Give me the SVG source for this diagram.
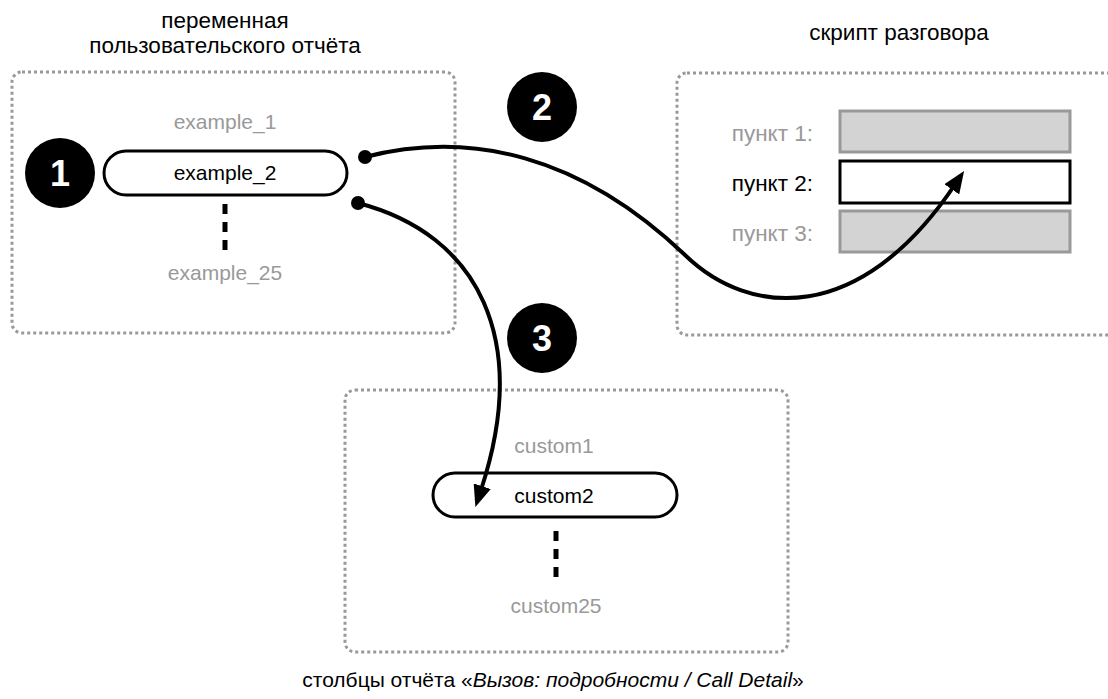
<svg xmlns="http://www.w3.org/2000/svg" width="1108" height="699" viewBox="0 0 1108 699">
<defs>
<style>
.t{font-family:"Liberation Sans",Arial,Helvetica,sans-serif;font-size:21px;fill:#000}
.c{font-size:22.5px}
.g{fill:#999}
.box{fill:none;stroke:#999;stroke-width:3;stroke-dasharray:3 3}
.pill{fill:#fff;stroke:#000;stroke-width:3}
.badge{fill:#000}
.bn{font-family:"Liberation Sans",Arial,Helvetica,sans-serif;font-size:36px;font-weight:bold;fill:#fff;text-anchor:middle}
.dash{stroke:#000;stroke-width:5;stroke-dasharray:10 8}
.conn{fill:none;stroke:#000;stroke-width:4}
.row{fill:#d3d3d3;stroke:#999;stroke-width:3}
</style>
<marker id="arr" markerUnits="userSpaceOnUse" markerWidth="22" markerHeight="18" refX="4" refY="9" orient="auto">
<path d="M0,0 L22,9 L0,18 Z" fill="#000"/>
</marker>
</defs>

<g id="report-variable">
<text class="t c" x="225" y="28" text-anchor="middle">переменная</text>
<text class="t c" x="225" y="53" text-anchor="middle">пользовательского отчёта</text>
<rect class="box" x="12" y="72" width="443" height="261" rx="10"/>
<text class="t g" x="225" y="129" text-anchor="middle">example_1</text>
<rect class="pill" x="104" y="151" width="243" height="44" rx="22"/>
<text class="t" x="225" y="180" text-anchor="middle">example_2</text>
<line class="dash" x1="225" y1="204" x2="225" y2="252"/>
<text class="t g" x="225" y="280" text-anchor="middle">example_25</text>
</g>

<g id="badge1">
<circle class="badge" cx="60" cy="173" r="35"/>
<text class="bn" x="60" y="186">1</text>
</g>

<g id="badge2">
<circle class="badge" cx="542" cy="107" r="35"/>
<text class="bn" x="542" y="120">2</text>
</g>

<g id="badge3">
<circle class="badge" cx="542" cy="338" r="35"/>
<text class="bn" x="542" y="351">3</text>
</g>

<g id="call-script">
<text class="t c" x="899" y="40" text-anchor="middle">скрипт разговора</text>
<rect class="box" x="677" y="73" width="460" height="262" rx="10"/>
<text class="t c g" x="813" y="141" text-anchor="end">пункт 1:</text>
<rect class="row" x="840" y="111" width="230" height="41"/>
<text class="t c" x="813" y="191" text-anchor="end">пункт 2:</text>
<rect x="840" y="161" width="230" height="42" fill="#fff" stroke="#000" stroke-width="3"/>
<text class="t c g" x="813" y="241" text-anchor="end">пункт 3:</text>
<rect class="row" x="840" y="211" width="230" height="41"/>
</g>

<g id="call-detail-columns">
<rect class="box" x="345" y="390" width="443" height="262" rx="10"/>
<text class="t g" x="554" y="453" text-anchor="middle">custom1</text>
<rect class="pill" x="433" y="473" width="244" height="44" rx="22"/>
<text class="t" x="554" y="503" text-anchor="middle">custom2</text>
<line class="dash" x1="556" y1="531" x2="556" y2="578"/>
<text class="t g" x="556" y="613" text-anchor="middle">custom25</text>
<text class="t" x="553" y="687" text-anchor="middle" font-size="21.5">столбцы отчёта «<tspan font-style="italic">Вызов: подробности / Call Detail</tspan>»</text>
</g>

<g id="connectors">
<circle cx="365" cy="157" r="7" fill="#000"/>
<path class="conn" d="M365,157 C470,130 580,155 685,255 C750,318 860,325 954,186" marker-end="url(#arr)"/>
<circle cx="358" cy="203" r="7" fill="#000"/>
<path class="conn" d="M358,203 C480,235 530,340 481,490" marker-end="url(#arr)"/>
</g>
</svg>
